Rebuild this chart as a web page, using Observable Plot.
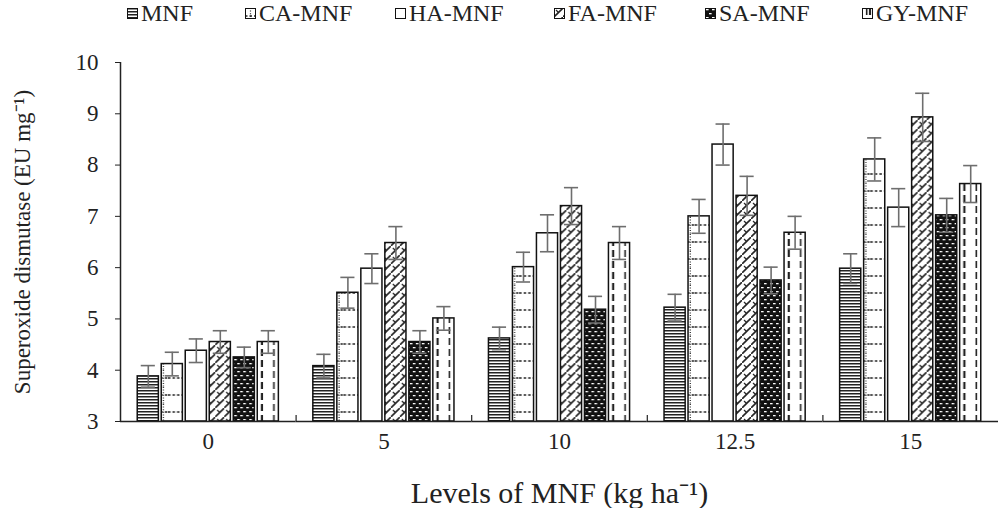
<!DOCTYPE html>
<html><head><meta charset="utf-8">
<script src="https://cdn.jsdelivr.net/npm/d3@7"></script>
<script src="https://cdn.jsdelivr.net/npm/@observablehq/plot@0.6"></script>
<style>
body{margin:0;background:#fff;font-family:"Liberation Serif","Times New Roman",serif;width:998px;height:508px;overflow:hidden}
#legend{position:relative;height:30px;}
.item{position:absolute;top:-2px;height:30px;display:flex;align-items:center;font-size:24px;color:#222;white-space:nowrap}
.item svg{margin-right:3px}
#chart svg text{font-family:"Liberation Serif","Times New Roman",serif}
</style></head><body>
<svg width="0" height="0" style="position:absolute"><defs id="defs"></defs></svg>
<div id="legend"></div><div id="chart"></div>
<script>
const levels = ["0", "5", "10", "12.5", "15"];
const seriesNames = ["MNF", "CA-MNF", "HA-MNF", "FA-MNF", "SA-MNF", "GY-MNF"];
const MNF = [3.88, 4.08, 4.62, 5.22, 5.98];
const CA  = [4.12, 5.51, 6.01, 7.00, 8.11];
const HA  = [4.38, 5.98, 6.67, 8.40, 7.17];
const FA  = [4.55, 6.48, 7.20, 7.40, 8.93];
const SA  = [4.25, 4.55, 5.18, 5.75, 7.02];
const GY  = [4.55, 5.01, 6.48, 6.68, 7.63];
const errMNF = [0.21, 0.23, 0.22, 0.26, 0.29];
const errCA  = [0.23, 0.30, 0.29, 0.33, 0.42];
const errHA  = [0.23, 0.29, 0.36, 0.40, 0.37];
const errFA  = [0.22, 0.32, 0.36, 0.38, 0.47];
const errSA  = [0.20, 0.22, 0.26, 0.26, 0.33];
const errGY  = [0.22, 0.23, 0.32, 0.32, 0.36];
const yTicks = [3, 4, 5, 6, 7, 8, 9, 10];
const legendLeft = [127, 245, 395, 554, 705, 862];

const valueArrays = [MNF, CA, HA, FA, SA, GY];
const errArrays = [errMNF, errCA, errHA, errFA, errSA, errGY];
const rows = [];
levels.forEach((lv, i) => seriesNames.forEach((s, j) =>
  rows.push({level: lv, series: s, idx: j, value: valueArrays[j][i], err: errArrays[j][i]})));

const W = 998, H = 478, mL = 120, mR = 0, mT = 32, mB = 87;
const yMin = yTicks[0], yMax = yTicks[yTicks.length - 1];
const bw = (W - mL - mR) / levels.length;
const pIn = 0.12, pOut = 0.718;
const xb = d3.scaleBand(seriesNames, [0, bw]).paddingInner(pIn).paddingOuter(pOut);
const barW = xb.bandwidth();
const edgeShift = -(xb(seriesNames[0]) + barW / 2);

function patterns(prefix, offs, w) {
  const k = "#222";
  return [
    `<pattern id="${prefix}0" patternUnits="userSpaceOnUse" x="${offs[0]}" y="0" width="4" height="3"><rect width="4" height="3" fill="#fff"/><rect width="4" height="1.5" fill="${k}"/></pattern>`,
    `<pattern id="${prefix}1" patternUnits="userSpaceOnUse" x="${offs[1]}" y="0" width="${w}" height="17"><rect width="${w}" height="17" fill="#fff"/><line x1="0" x2="${w}" y1="8" y2="8" stroke="${k}" stroke-width="1.4" stroke-dasharray="2.5 2"/><line x1="${w-4.5}" x2="${w-4.5}" y1="0" y2="17" stroke="${k}" stroke-width="1.2" stroke-dasharray="1 1.6"/></pattern>`,
    `<pattern id="${prefix}2" patternUnits="userSpaceOnUse" x="${offs[2]}" y="0" width="${w}" height="10"><rect width="${w}" height="10" fill="#fff"/></pattern>`,
    `<pattern id="${prefix}3" patternUnits="userSpaceOnUse" x="${offs[3]}" y="0" width="9" height="9"><rect width="9" height="9" fill="#fff"/><path d="M-1,10L10,-1" stroke="${k}" stroke-width="1.6"/><path d="M2,2L4.5,4.5" stroke="${k}" stroke-width="1.3"/></pattern>`,
    `<pattern id="${prefix}4" patternUnits="userSpaceOnUse" x="${offs[4]}" y="0" width="6" height="8"><rect width="6" height="8" fill="#111"/><rect x="1" y="1" width="2.6" height="1.3" fill="#fff"/><rect x="4" y="5" width="2.6" height="1.3" fill="#fff"/><rect x="-2" y="5" width="2.6" height="1.3" fill="#fff"/></pattern>`,
    `<pattern id="${prefix}5" patternUnits="userSpaceOnUse" x="${offs[5]}" y="0" width="${w}" height="11"><rect width="${w}" height="11" fill="#fff"/><line x1="${w*0.47}" x2="${w*0.47}" y1="0" y2="7" stroke="${k}" stroke-width="1.6"/><line x1="${w-2}" x2="${w-2}" y1="0" y2="7" stroke="${k}" stroke-width="2.2"/></pattern>`
  ].join("");
}
document.getElementById("defs").innerHTML =
  patterns("pat", seriesNames.map(s => xb(s)), barW) + patterns("lg", [0,0,0,0,0,0], 10);

// legend
const legend = document.getElementById("legend");
seriesNames.forEach((s, j) => {
  const it = document.createElement("div");
  it.className = "item";
  it.style.left = legendLeft[j] + "px";
  it.innerHTML = `<svg width="11" height="11"><rect x="0.5" y="0.5" width="10" height="10" fill="url(#lg${j})" stroke="#111" stroke-width="1"/></svg>${s}`;
  legend.appendChild(it);
});

const errColor = "#6e6e6e";
const chart = Plot.plot({
  width: W, height: H, marginLeft: mL, marginRight: mR, marginTop: mT, marginBottom: mB,
  style: "font-family:'Liberation Serif','Times New Roman',serif;color:#222;background:white;overflow:visible",
  fx: {domain: levels, padding: 0, round: false, label: null},
  x: {domain: seriesNames, paddingInner: pIn, paddingOuter: pOut, round: false, axis: null},
  y: {domain: [yMin, yMax]},
  color: {type: "identity"},
  marks: [
    Plot.barY(rows, {fx: "level", x: "series", y1: yMin, y2: "value", fill: d => `url(#pat${d.idx})`, stroke: "#111", strokeWidth: 1.5}),
    Plot.ruleX(rows, {fx: "level", x: "series", y1: d => d.value - d.err, y2: d => d.value + d.err, stroke: errColor, strokeWidth: 1.6}),
    Plot.tickY(rows, {fx: "level", x: "series", y: d => d.value + d.err, stroke: errColor, strokeWidth: 1.6, insetLeft: 3.5, insetRight: 3.5}),
    Plot.tickY(rows, {fx: "level", x: "series", y: d => d.value - d.err, stroke: errColor, strokeWidth: 1.6, insetLeft: 3.5, insetRight: 3.5}),
    Plot.ruleY([yMin], {stroke: "#222", strokeWidth: 1.5}),
    Plot.ruleX([levels[0]], {fx: d => d, x: () => seriesNames[0], y1: yMin, y2: yMax, dx: edgeShift, stroke: "#222", strokeWidth: 1.5}),
    Plot.ruleX(levels.slice(1), {fx: d => d, x: () => seriesNames[0], y1: yMin, y2: yMin, insetTop: -6, dx: edgeShift, stroke: "#222", strokeWidth: 1.2}),
    Plot.axisY({ticks: yTicks, tickFormat: d3.format("d"), tickSize: 5, tickPadding: 17, fontSize: 23, stroke: "#222",
      label: "Superoxide dismutase (EU mg⁻¹)", labelAnchor: "center", labelOffset: 107, labelArrow: "none"}),
    Plot.axisFx({anchor: "bottom", tickSize: 0, tickPadding: 11, fontSize: 23, label: null}),
    Plot.axisFx({anchor: "bottom", tickSize: 0, ticks: [], label: "Levels of MNF (kg ha⁻¹)", fontSize: 30,
      labelAnchor: "center", labelOffset: 81, labelArrow: "none"})
  ]
});
document.getElementById("chart").appendChild(chart);
</script>
</body></html>
